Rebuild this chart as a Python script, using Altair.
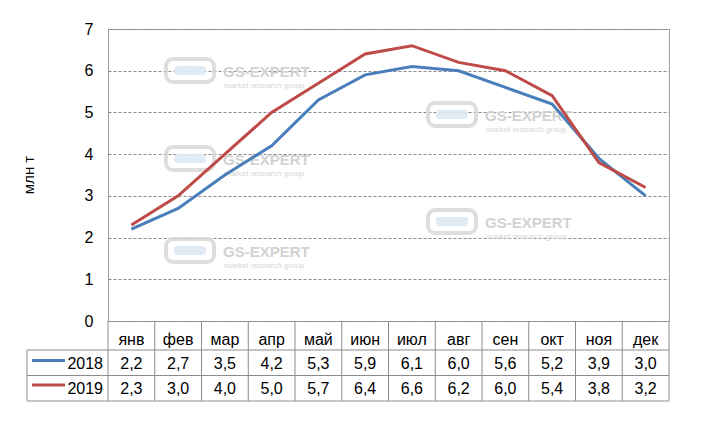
import altair as alt
import pandas as pd

months = ["янв", "фев", "мар", "апр", "май", "июн", "июл", "авг", "сен", "окт", "ноя", "дек"]
years = ["2018", "2019"]
v2018 = [2.2, 2.7, 3.5, 4.2, 5.3, 5.9, 6.1, 6.0, 5.6, 5.2, 3.9, 3.0]
v2019 = [2.3, 3.0, 4.0, 5.0, 5.7, 6.4, 6.6, 6.2, 6.0, 5.4, 3.8, 3.2]
y_ticks = [0, 1, 2, 3, 4, 5, 6, 7]
y_title = "млн т"

COLORS = ["#4A7EBB", "#BE4B48"]
FONT = "Liberation Sans"
W, H = 561, 292

rows = []
for yr, vals in zip(years, [v2018, v2019]):
    for m, v in zip(months, vals):
        rows.append({"month": m, "year": yr, "value": v,
                     "label": f"{v:.1f}".replace(".", ",")})
df = pd.DataFrame(rows)
dummy = pd.DataFrame({"a": [0]})

xs = alt.X("month:N", sort=months,
           scale=alt.Scale(type="point", domain=months, padding=0.5), axis=None)

# watermarks (decorative)
wm_layers = []
for (L, T) in [(164, 57), (426, 101), (164, 145), (426, 208), (164, 237)]:
    lx, ty = L - 108, T - 29
    wm_layers.append(alt.Chart(dummy).mark_rect(
        filled=False, stroke="#d6d6d6", strokeWidth=4, cornerRadius=7, opacity=0.8
    ).encode(x=alt.value(lx + 2), x2=alt.value(lx + 50), y=alt.value(ty + 2), y2=alt.value(ty + 25)))
    wm_layers.append(alt.Chart(dummy).mark_rect(
        fill="#dde9f5", cornerRadius=3, opacity=0.9
    ).encode(x=alt.value(lx + 10), x2=alt.value(lx + 42), y=alt.value(ty + 9), y2=alt.value(ty + 18)))
    wm_layers.append(alt.Chart(dummy).mark_text(
        text="GS-EXPERT", font=FONT, fontSize=15, fontWeight="bold", color="#d2d2d2",
        align="left", baseline="alphabetic"
    ).encode(x=alt.value(lx + 59), y=alt.value(ty + 20)))
    wm_layers.append(alt.Chart(dummy).mark_text(
        text="market research group", font=FONT, fontSize=8, color="#d6d6d6",
        align="left", baseline="alphabetic"
    ).encode(x=alt.value(lx + 60), y=alt.value(ty + 31)))

lines = alt.Chart(df).mark_line(strokeWidth=3).encode(
    x=xs,
    y=alt.Y("value:Q", scale=alt.Scale(domain=[0, 7], nice=False),
            axis=alt.Axis(values=y_ticks, title=None, ticks=False, domain=False,
                          labelFont=FONT, labelFontSize=16, labelColor="#000000",
                          labelPadding=15, gridColor="#8a8a8a", gridDash=[3, 2],
                          gridWidth=1)),
    color=alt.Color("year:N", scale=alt.Scale(domain=years, range=COLORS), legend=None),
)

ytitle = alt.Chart(dummy).mark_text(
    text=y_title, font=FONT, fontSize=15, angle=270, align="center", baseline="middle",
    color="#000000"
).encode(x=alt.value(-79), y=alt.value(H / 2))

# table grid
seps = pd.DataFrame({"k": list(range(13))})
vrules = alt.Chart(seps).mark_rule(color="#8c8c8c", strokeWidth=1).encode(
    x=alt.X("k:Q", scale=alt.Scale(domain=[0, 12]), axis=None),
    y=alt.value(H), y2=alt.value(372),
)
hrules = [alt.Chart(dummy).mark_rule(color="#8c8c8c", strokeWidth=1).encode(
    x=alt.value(-81), x2=alt.value(W), y=alt.value(yy)) for yy in [321, 346.5, 372]]
lrule = alt.Chart(dummy).mark_rule(color="#8c8c8c", strokeWidth=1).encode(
    x=alt.value(-81), y=alt.value(321), y2=alt.value(372))

month_text = alt.Chart(pd.DataFrame({"month": months})).mark_text(
    font=FONT, fontSize=16, baseline="alphabetic", color="#000000"
).encode(x=xs, y=alt.value(316), text="month:N")

table_layers = []
for i, (yr, base) in enumerate(zip(years, [340, 364.5])):
    table_layers.append(alt.Chart(df).transform_filter(alt.datum.year == yr).mark_text(
        font=FONT, fontSize=16, baseline="alphabetic", color="#000000"
    ).encode(x=xs, y=alt.value(base), text="label:N"))
    table_layers.append(alt.Chart(dummy).mark_text(
        text=yr, font=FONT, fontSize=16, baseline="alphabetic", align="right", color="#000000"
    ).encode(x=alt.value(-5), y=alt.value(base)))
    table_layers.append(alt.Chart(dummy).mark_rule(color=COLORS[i], strokeWidth=3).encode(
        x=alt.value(-76), x2=alt.value(-43), y=alt.value(base - 8.5)))

chart = alt.layer(
    *wm_layers, lines, ytitle, vrules, *hrules, lrule, month_text, *table_layers
).resolve_scale(x="independent").properties(
    width=W, height=H,
    padding={"left": 108, "top": 29, "right": 32, "bottom": 100},
    autosize=alt.AutoSizeParams(type="none"),
    background="#ffffff",
).configure_view(stroke="#a0a0a0", strokeWidth=1)

chart.save("out.html", embed_options={"renderer": "svg", "actions": False})
